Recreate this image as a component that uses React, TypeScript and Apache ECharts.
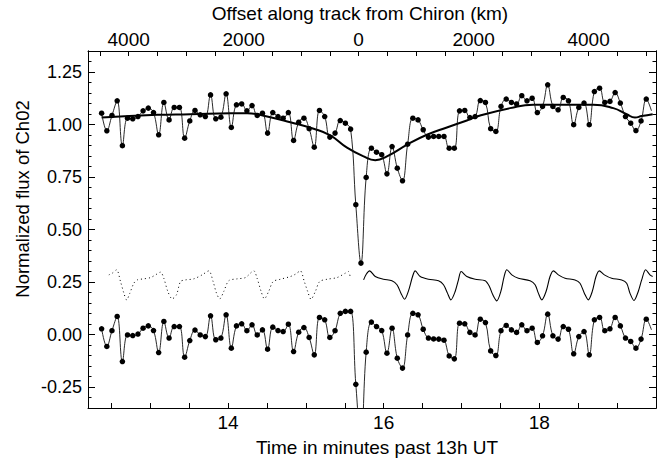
import React, { useEffect, useRef } from "react";
import * as echarts from "echarts";

// Sample times (minutes past 13h UT), 4 s cadence
const sampleTime = [
  12.375, 12.442, 12.508, 12.575, 12.642, 12.708, 12.775, 12.842, 12.908, 12.975,
  13.042, 13.108, 13.175, 13.242, 13.308, 13.375, 13.442, 13.508, 13.575, 13.642,
  13.708, 13.775, 13.842, 13.908, 13.975, 14.042, 14.108, 14.175, 14.242, 14.308,
  14.375, 14.442, 14.508, 14.575, 14.642, 14.708, 14.775, 14.842, 14.908, 14.975,
  15.042, 15.108, 15.175, 15.242, 15.308, 15.375, 15.442, 15.508, 15.575, 15.642,
  15.708, 15.775, 15.842, 15.908, 15.975, 16.042, 16.108, 16.175, 16.242, 16.308,
  16.375, 16.442, 16.508, 16.575, 16.642, 16.708, 16.775, 16.842, 16.908, 16.975,
  17.042, 17.108, 17.175, 17.242, 17.308, 17.375, 17.442, 17.508, 17.575, 17.642,
  17.708, 17.775, 17.842, 17.908, 17.975, 18.042, 18.108, 18.175, 18.242, 18.308,
  18.375, 18.442, 18.508, 18.575, 18.642, 18.708, 18.775, 18.842, 18.908, 18.975,
  19.042, 19.108, 19.175, 19.242, 19.308, 19.375, 19.442,
];

// Normalized flux of Ch02 (observed)
const fluxObserved = [
  1.054, 0.970, 1.043, 1.113, 0.899, 1.030, 1.027, 1.038, 1.065, 1.078,
  1.057, 0.951, 1.105, 1.022, 1.081, 1.081, 0.935, 1.017, 1.067, 1.046,
  1.038, 1.141, 1.027, 1.035, 1.146, 0.986, 1.094, 1.098, 1.065, 1.090,
  1.043, 1.054, 0.959, 1.057, 1.038, 1.030, 1.057, 0.924, 1.011, 1.030,
  0.980, 0.892, 1.067, 1.038, 0.940, 0.959, 1.019, 1.006, 0.978, 0.618,
  0.340, 0.748, 0.887, 0.868, 0.856, 0.765, 0.895, 0.792, 0.732, 0.906,
  1.030, 1.022, 0.975, 0.940, 0.943, 0.943, 0.943, 0.887, 0.887, 1.065,
  1.067, 1.033, 1.038, 1.114, 1.105, 0.980, 0.967, 1.086, 1.121, 1.105,
  1.098, 1.137, 1.113, 1.125, 1.057, 1.086, 1.189, 1.086, 1.070, 1.129,
  1.113, 0.999, 1.081, 1.102, 0.999, 1.157, 1.173, 1.105, 1.110, 1.152,
  1.102, 1.038, 1.006, 0.971, 1.017, 1.121, 1.065,
];

// Residual flux (observed minus fit)
const fluxResidual = [
  0.027, -0.057, 0.018, 0.086, -0.129, -0.002, -0.005, 0.002, 0.030, 0.041,
  0.019, -0.086, 0.062, -0.017, 0.038, 0.038, -0.108, -0.029, 0.021, -0.002,
  -0.010, 0.089, -0.025, -0.017, 0.094, -0.065, 0.041, 0.051, 0.018, 0.046,
  -0.002, 0.022, -0.070, 0.035, 0.019, 0.014, 0.049, -0.081, 0.011, 0.033,
  -0.014, -0.097, 0.081, 0.070, -0.014, 0.018, 0.101, 0.110, 0.110, -0.237,
  -0.510, -0.084, 0.059, 0.038, 0.019, -0.089, 0.030, -0.113, -0.160, -0.002,
  0.101, 0.094, 0.025, -0.017, -0.021, -0.022, -0.027, -0.102, -0.116, 0.054,
  0.051, 0.010, -0.002, 0.073, 0.057, -0.078, -0.100, 0.018, 0.043, 0.022,
  0.010, 0.046, 0.018, 0.030, -0.038, -0.006, 0.097, -0.006, -0.022, 0.038,
  0.025, -0.092, -0.010, 0.014, -0.097, 0.070, 0.081, 0.018, 0.027, 0.081,
  0.041, -0.017, -0.033, -0.065, -0.022, 0.073, 0.022,
];

// Smooth fit through observed flux
const fitTime = [
  12.375, 13.09, 13.517, 14.03, 14.245, 14.502, 14.8, 15.1, 15.314, 15.529,
  15.742, 15.892, 16.042, 16.319, 16.556, 16.812, 17.069, 17.24, 17.625, 17.924,
  18.267, 18.694, 18.951, 19.123, 19.23, 19.316, 19.457,
];
const fitFlux = [
  1.033, 1.046, 1.049, 1.054, 1.054, 1.038, 1.011, 0.98, 0.948, 0.89,
  0.848, 0.83, 0.848, 0.908, 0.951, 0.986, 1.019, 1.043, 1.078, 1.094,
  1.094, 1.094, 1.078, 1.049, 1.033, 1.04, 1.049,
];

// Model light curve, mirrored part (dotted)
const mirrorTime = [
  12.468, 12.512, 12.567, 12.618, 12.661, 12.696, 12.738, 12.789, 12.833, 12.918,
  13.004, 13.068, 13.132, 13.174, 13.226, 13.282, 13.337, 13.389, 13.453, 13.559,
  13.667, 13.752, 13.808, 13.851, 13.893, 13.945, 14.009, 14.117, 14.223, 14.33,
  14.373, 14.425, 14.467, 14.522, 14.579, 14.672, 14.801, 14.865, 14.929, 14.98,
  15.023, 15.066, 15.122, 15.177, 15.272, 15.4, 15.507, 15.549, 15.571,
];
const mirrorFlux = [
  0.284, 0.292, 0.308, 0.252, 0.197, 0.165, 0.197, 0.244, 0.26, 0.265,
  0.271, 0.284, 0.297, 0.268, 0.205, 0.17, 0.189, 0.252, 0.26, 0.265,
  0.284, 0.303, 0.252, 0.197, 0.17, 0.205, 0.256, 0.265, 0.271, 0.303,
  0.268, 0.205, 0.17, 0.205, 0.252, 0.263, 0.276, 0.287, 0.303, 0.252,
  0.205, 0.168, 0.205, 0.252, 0.263, 0.271, 0.292, 0.3, 0.268,
];

// Model light curve (solid)
const modelTime = [
  15.742, 15.776, 15.819, 15.892, 15.998, 16.106, 16.171, 16.222, 16.268, 16.319,
  16.371, 16.405, 16.47, 16.576, 16.705, 16.769, 16.82, 16.864, 16.919, 16.961,
  16.996, 17.069, 17.176, 17.304, 17.359, 17.403, 17.454, 17.506, 17.548, 17.583,
  17.647, 17.731, 17.882, 17.946, 17.988, 18.032, 18.087, 18.138, 18.181, 18.245,
  18.331, 18.459, 18.523, 18.579, 18.63, 18.681, 18.729, 18.771, 18.836, 18.93,
  19.059, 19.123, 19.165, 19.217, 19.272, 19.316, 19.367, 19.422, 19.457,
];
const modelFlux = [
  0.26, 0.287, 0.303, 0.276, 0.263, 0.256, 0.237, 0.197, 0.168, 0.208,
  0.276, 0.303, 0.276, 0.263, 0.256, 0.237, 0.197, 0.165, 0.205, 0.26,
  0.3, 0.276, 0.263, 0.256, 0.229, 0.189, 0.16, 0.205, 0.276, 0.308,
  0.284, 0.268, 0.256, 0.237, 0.197, 0.165, 0.205, 0.276, 0.303, 0.284,
  0.268, 0.26, 0.244, 0.197, 0.165, 0.205, 0.276, 0.303, 0.284, 0.268,
  0.26, 0.244, 0.197, 0.162, 0.205, 0.26, 0.308, 0.284, 0.276,
];

// Axis ticks and labels
const timeLabels = [14, 16, 18];
const timeTicks = [12.5, 13, 13.5, 14, 14.5, 15, 15.5, 16, 16.5, 17, 17.5, 18, 18.5, 19, 19.5];
const kmLabels = [-4000, -2000, 0, 2000, 4000];
const kmTicks = [-4500, -4000, -3500, -3000, -2500, -2000, -1500, -1000, -500, 0, 500, 1000, 1500, 2000, 2500, 3000, 3500, 4000, 4500, 5000];
const fluxLabels = [-0.25, 0, 0.25, 0.5, 0.75, 1.0, 1.25];
const fluxMinorTicks = [-0.3, -0.2, -0.15, -0.1, -0.05, 0.05, 0.1, 0.15, 0.2, 0.3, 0.35, 0.4, 0.45, 0.55, 0.6, 0.65, 0.7, 0.8, 0.85, 0.9, 0.95, 1.05, 1.1, 1.15, 1.2, 1.3];

const T_MIN = 12.2;
const T_MAX = 19.5;
const KM_MIN = -4708;
const KM_MAX = 5173;
const F_MIN = -0.35;
const F_MAX = 1.35;

const FONT = "'Liberation Sans', Arial, Helvetica, sans-serif";

export default function App() {
  const ref = useRef<HTMLDivElement>(null);
  useEffect(() => {
    if (!ref.current) return;
    const chart = echarts.init(ref.current, null, { renderer: "svg" });
    const zip = (xs: number[], ys: number[]) => xs.map((x, i) => [x, ys[i]]);
    const withLastHidden = (xs: number[], ys: number[]) =>
      xs.map((x, i) =>
        i === xs.length - 1 ? { value: [x, ys[i]], symbol: "none" } : { value: [x, ys[i]] }
      );
    const axisLine = { show: true, onZero: false, lineStyle: { color: "#000", width: 1 } };
    const yBase = (position: string, ticks: number[], len: number, labels: boolean) => ({
      type: "value",
      position,
      min: F_MIN,
      max: F_MAX,
      axisLine,
      splitLine: { show: false },
      axisTick: { show: true, inside: true, length: len, customValues: ticks, lineStyle: { color: "#000" } },
      axisLabel: labels
        ? {
            show: true,
            customValues: fluxLabels,
            formatter: (v: number) => v.toFixed(2),
            color: "#000",
            fontSize: 18,
            fontFamily: FONT,
            margin: 6,
          }
        : { show: false },
    });
    const dotsSeries = (name: string, ys: number[]) => ({
      name,
      type: "line",
      xAxisIndex: 0,
      yAxisIndex: 0,
      data: withLastHidden(sampleTime, ys),
      smooth: 0.4,
      symbol: "circle",
      symbolSize: 5.5,
      itemStyle: { color: "#000" },
      lineStyle: { color: "#111", width: 0.9 },
      z: 3,
    });
    chart.setOption({
      animation: false,
      grid: { left: 88, right: 11, top: 51, bottom: 59, containLabel: false },
      xAxis: [
        {
          type: "value",
          position: "bottom",
          min: T_MIN,
          max: T_MAX,
          axisLine,
          splitLine: { show: false },
          axisTick: { show: true, inside: true, length: 5, customValues: timeTicks, lineStyle: { color: "#000" } },
          axisLabel: { customValues: timeLabels, color: "#000", fontSize: 19, fontFamily: FONT, margin: 5 },
        },
        {
          type: "value",
          position: "top",
          min: KM_MIN,
          max: KM_MAX,
          axisLine,
          splitLine: { show: false },
          axisTick: { show: true, inside: true, length: 5, customValues: kmTicks, lineStyle: { color: "#000" } },
          axisLabel: {
            customValues: kmLabels,
            formatter: (v: number) => String(Math.abs(v)),
            color: "#000",
            fontSize: 19,
            fontFamily: FONT,
            margin: 2,
          },
        },
      ],
      yAxis: [
        yBase("left", fluxLabels, 7, true),
        yBase("left", fluxMinorTicks, 3.5, false),
        yBase("right", fluxLabels, 7, false),
        yBase("right", fluxMinorTicks, 3.5, false),
      ],
      graphic: [
        {
          type: "text",
          x: 360,
          y: 13,
          style: {
            text: "Offset along track from Chiron (km)",
            fill: "#000",
            fontSize: 19,
            fontFamily: FONT,
            textAlign: "center",
            textVerticalAlign: "middle",
          },
        },
        {
          type: "text",
          x: 377,
          y: 447,
          style: {
            text: "Time in minutes past 13h UT",
            fill: "#000",
            fontSize: 19,
            fontFamily: FONT,
            textAlign: "center",
            textVerticalAlign: "middle",
          },
        },
        {
          type: "text",
          x: 22,
          y: 199,
          rotation: Math.PI / 2,
          style: {
            text: "Normalized flux of Ch02",
            fill: "#000",
            fontSize: 18.5,
            fontFamily: FONT,
            textAlign: "center",
            textVerticalAlign: "middle",
          },
        },
      ],
      series: [
        dotsSeries("Observed", fluxObserved),
        {
          name: "Fit",
          type: "line",
          data: zip(fitTime, fitFlux),
          smooth: true,
          symbol: "none",
          lineStyle: { color: "#000", width: 2 },
          z: 2,
        },
        dotsSeries("Residual", fluxResidual),
        {
          name: "Model (mirrored)",
          type: "line",
          data: zip(mirrorTime, mirrorFlux),
          smooth: 0.3,
          symbol: "none",
          lineStyle: { color: "#000", width: 1, type: [1, 3] },
        },
        {
          name: "Model",
          type: "line",
          data: zip(modelTime, modelFlux),
          smooth: 0.3,
          symbol: "none",
          lineStyle: { color: "#000", width: 1.1 },
        },
      ],
    });
    return () => chart.dispose();
  }, []);
  return (
    <div
      ref={ref}
      style={{ position: "fixed", left: 0, top: 0, width: 667, height: 467, background: "#fff" }}
    />
  );
}
